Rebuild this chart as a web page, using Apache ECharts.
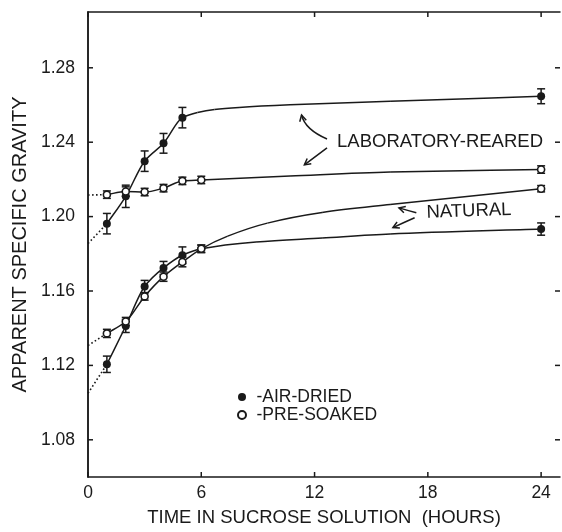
<!DOCTYPE html>
<html>
<head>
<meta charset="utf-8">
<script src="https://cdn.jsdelivr.net/npm/echarts@6/dist/echarts.min.js"></script>
<style>
html,body{margin:0;padding:0;background:#fff;}
#chart{width:562px;height:532px;}
</style>
</head>
<body>
<div id="chart"></div>
<script>
// ---- data ----
const xTicks = [0, 6, 12, 18, 24];
const yTicks = [1.08, 1.12, 1.16, 1.20, 1.24, 1.28];
const X_MIN = 0, X_MAX = 25, Y_MIN = 1.06, Y_MAX = 1.31;

// Laboratory-reared, air-dried (filled)
const labAirTimes  = [1, 2, 3, 4, 5, 24];
const labAirValues = [1.1962, 1.2109, 1.2298, 1.2394, 1.2532, 1.2647];
const labAirErrors = [0.0055, 0.0060, 0.0055, 0.0053, 0.0055, 0.0040];
const labAirFit    = [[5.8, 1.2560], [6.7, 1.2576], [8, 1.2587], [10.7, 1.2601], [16, 1.2620]];
const labAirStart  = 1.1855;

// Laboratory-reared, pre-soaked (open)
const labPreTimes  = [1, 2, 3, 4, 5, 6, 24];
const labPreValues = [1.2118, 1.2135, 1.2132, 1.2153, 1.2192, 1.2197, 1.2253];
const labPreErrors = [0.0020, 0.0025, 0.0020, 0.0020, 0.0020, 0.0020, 0.0020];
const labPreFit    = [[10.7, 1.2218], [16, 1.2240]];
const labPreStart  = 1.2116;

// Natural, air-dried (filled)
const natAirTimes  = [1, 2, 3, 4, 5, 6, 24];
const natAirValues = [1.1206, 1.1412, 1.1624, 1.1724, 1.1792, 1.1827, 1.1933];
const natAirErrors = [0.0044, 0.0035, 0.0033, 0.0035, 0.0045, 0.0020, 0.0033];
const natAirFit    = [[8.9, 1.1864], [12.4, 1.1885], [16, 1.1906]];
const natAirStart  = 1.1050;

// Natural, pre-soaked (open)
const natPreTimes  = [1, 2, 3, 4, 5, 6, 24];
const natPreValues = [1.1372, 1.1436, 1.1571, 1.1677, 1.1756, 1.1827, 1.2150];
const natPreErrors = [0.0022, 0.0022, 0.0020, 0.0025, 0.0026, 0.0020, 0.0017];
const natPreFit    = [[7.4, 1.1895], [9.5, 1.1965], [12.4, 1.2022], [16, 1.2065]];
const natPreStart  = 1.1307;

// annotation labels and arrows (data coordinates: hours, gravity)
const labelTexts   = ['LABORATORY-REARED', 'NATURAL'];
const labelAnchors = [[13.19, 1.2400], [17.93, 1.2021]];
// [tailX, tailY, ctrlX, ctrlY, tipX, tipY]
const arrows = [
  [12.66, 1.2417, 11.50, 1.2468, 11.31, 1.2546],
  [12.66, 1.2370, 12.0, 1.2320, 11.46, 1.2278],
  [17.39, 1.2021, 16.9, 1.2034, 16.47, 1.2047],
  [17.30, 1.1994, 16.7, 1.1967, 16.15, 1.1941]
];

// ---- helpers ----
const INK = '#1a1a1a';
const FONT = '"Liberation Sans", Arial, Helvetica, sans-serif';
function pts(t, v) { return t.map((x, i) => [x, v[i]]); }
function ptsErr(t, v, e) { return t.map((x, i) => [x, v[i], e[i]]); }
function curve(t, v, fit) { return pts(t, v).concat(fit).sort((a, b) => a[0] - b[0]); }
function dotted(start, t, v) { return [[0, start], [t[0], v[0]]]; }

const chart = echarts.init(document.getElementById('chart'), null, {renderer: 'canvas'});

// smooth monotone (PCHIP) curve drawn through the data points, in pixel space
function curveSeries(data) {
  return {
    type: 'custom', data: data, z: 2, silent: true, clip: false,
    renderItem: function (params, api) {
      if (params.dataIndex !== 0) return null;
      const P = data.map(d => api.coord(d));
      const n = P.length;
      const h = [], d = [];
      for (let i = 0; i < n - 1; i++) {
        h.push(P[i + 1][0] - P[i][0]);
        d.push((P[i + 1][1] - P[i][1]) / h[i]);
      }
      const m = new Array(n);
      m[0] = d[0]; m[n - 1] = d[n - 2];
      for (let i = 1; i < n - 1; i++) {
        if (d[i - 1] * d[i] <= 0) { m[i] = 0; continue; }
        const w1 = 2 * h[i] + h[i - 1], w2 = h[i] + 2 * h[i - 1];
        m[i] = (w1 + w2) / (w1 / d[i - 1] + w2 / d[i]);
      }
      const children = [];
      for (let i = 0; i < n - 1; i++) {
        const k = h[i] / 3;
        children.push({type: 'bezierCurve', shape: {
          x1: P[i][0], y1: P[i][1],
          cpx1: P[i][0] + k, cpy1: P[i][1] + m[i] * k,
          cpx2: P[i + 1][0] - k, cpy2: P[i + 1][1] - m[i + 1] * k,
          x2: P[i + 1][0], y2: P[i + 1][1]},
          style: {stroke: INK, lineWidth: 1.5, fill: null}});
      }
      return {type: 'group', children: children};
    }
  };
}
function dotSeries(data) {
  return {type: 'line', data: data, symbol: 'none',
    lineStyle: {color: INK, width: 1.6, type: [1.6, 2.4]}, z: 2, silent: true};
}
function errSeries(data) {
  return {
    type: 'custom', data: data, z: 3, silent: true,
    renderItem: function (params, api) {
      const x = api.value(0), y = api.value(1), e = api.value(2);
      const top = api.coord([x, y + e]), bot = api.coord([x, y - e]);
      const w = 4;
      const st = {stroke: INK, lineWidth: 1.5};
      return {type: 'group', children: [
        {type: 'line', shape: {x1: top[0], y1: top[1], x2: bot[0], y2: bot[1]}, style: st},
        {type: 'line', shape: {x1: top[0] - w, y1: top[1], x2: top[0] + w, y2: top[1]}, style: st},
        {type: 'line', shape: {x1: bot[0] - w, y1: bot[1], x2: bot[0] + w, y2: bot[1]}, style: st}
      ]};
    }
  };
}
// inward tick marks on all four sides, placed through the axis scales
function tickSeries(values, isX) {
  return {
    type: 'custom', data: values.map(v => [v]), z: 10, silent: true, clip: false,
    renderItem: function (params, api) {
      const v = api.value(0), L = 5;
      const st = {stroke: INK, lineWidth: 1.5};
      if (isX) {
        const b = api.coord([v, Y_MIN]), t = api.coord([v, Y_MAX]);
        return {type: 'group', children: [
          {type: 'line', shape: {x1: b[0], y1: b[1], x2: b[0], y2: b[1] - L}, style: st},
          {type: 'line', shape: {x1: t[0], y1: t[1], x2: t[0], y2: t[1] + L}, style: st}]};
      }
      const l = api.coord([X_MIN, v]), r = api.coord([X_MAX, v]);
      return {type: 'group', children: [
        {type: 'line', shape: {x1: l[0], y1: l[1], x2: l[0] + L, y2: l[1]}, style: st},
        {type: 'line', shape: {x1: r[0], y1: r[1], x2: r[0] - L, y2: r[1]}, style: st}]};
    }
  };
}

const axisLine = {show: true, lineStyle: {color: INK, width: 1.5}};

const option = {
  animation: false,
  backgroundColor: '#ffffff',
  grid: {left: 88, right: 2, top: 12, bottom: 50, containLabel: false},
  legend: {
    data: ['-AIR-DRIED', '-PRE-SOAKED'],
    orient: 'vertical', left: 237, top: 388,
    itemWidth: 19, itemHeight: 8, itemGap: 0, padding: 0,
    selectedMode: false,
    textStyle: {fontSize: 17.5, lineHeight: 15, color: INK, fontFamily: FONT}
  },
  xAxis: [
    {
      type: 'value', position: 'bottom', min: X_MIN, max: X_MAX,
      axisLine: axisLine, axisTick: {show: false}, splitLine: {show: false},
      axisLabel: {customValues: xTicks, color: INK, fontSize: 17.5, fontFamily: FONT, margin: 7},
      name: 'TIME IN SUCROSE SOLUTION  (HOURS)', nameLocation: 'middle', nameGap: 31,
      nameTextStyle: {color: INK, fontSize: 18.5, fontFamily: FONT}
    },
    {
      type: 'value', position: 'top', min: X_MIN, max: X_MAX,
      axisLine: axisLine, axisTick: {show: false}, splitLine: {show: false},
      axisLabel: {show: false}
    }
  ],
  yAxis: [
    {
      type: 'value', position: 'left', min: Y_MIN, max: Y_MAX,
      axisLine: axisLine, axisTick: {show: false}, splitLine: {show: false},
      axisLabel: {customValues: yTicks, color: INK, fontSize: 17.5, fontFamily: FONT, margin: 13,
        formatter: v => v.toFixed(2)},
      name: 'APPARENT SPECIFIC GRAVITY', nameLocation: 'middle', nameGap: 55,
      nameTextStyle: {color: INK, fontSize: 20, fontFamily: FONT}
    },
    {
      type: 'value', position: 'right', min: Y_MIN, max: Y_MAX,
      axisLine: axisLine, axisTick: {show: false}, splitLine: {show: false},
      axisLabel: {show: false}
    }
  ],
  series: [
    tickSeries(xTicks, true),
    tickSeries(yTicks, false),
    dotSeries(dotted(labAirStart, labAirTimes, labAirValues)),
    dotSeries(dotted(labPreStart, labPreTimes, labPreValues)),
    dotSeries(dotted(natAirStart, natAirTimes, natAirValues)),
    dotSeries(dotted(natPreStart, natPreTimes, natPreValues)),
    curveSeries(curve(labAirTimes, labAirValues, labAirFit)),
    curveSeries(curve(labPreTimes, labPreValues, labPreFit)),
    curveSeries(curve(natAirTimes, natAirValues, natAirFit)),
    curveSeries(curve(natPreTimes, natPreValues, natPreFit)),
    errSeries(ptsErr(labAirTimes, labAirValues, labAirErrors)),
    errSeries(ptsErr(labPreTimes, labPreValues, labPreErrors)),
    errSeries(ptsErr(natAirTimes, natAirValues, natAirErrors)),
    errSeries(ptsErr(natPreTimes, natPreValues, natPreErrors)),
    {
      name: '-AIR-DRIED', type: 'scatter', z: 5, symbol: 'circle', symbolSize: 8,
      itemStyle: {color: INK, borderColor: INK, borderWidth: 0, opacity: 1},
      data: pts(labAirTimes, labAirValues).concat(pts(natAirTimes, natAirValues))
    },
    {
      name: '-PRE-SOAKED', type: 'scatter', z: 6, symbol: 'circle', symbolSize: 7,
      itemStyle: {color: '#ffffff', borderColor: INK, borderWidth: 1.6, opacity: 1},
      data: pts(labPreTimes, labPreValues).concat(pts(natPreTimes, natPreValues))
    },
    {
      type: 'custom', z: 7, silent: true, data: arrows,
      renderItem: function (params, api) {
        const t = api.coord([api.value(0), api.value(1)]);
        const c = api.coord([api.value(2), api.value(3)]);
        const p = api.coord([api.value(4), api.value(5)]);
        const ang = Math.atan2(p[1] - c[1], p[0] - c[0]);
        const L = 7, a = 0.5;
        const h1 = [p[0] - L * Math.cos(ang - a), p[1] - L * Math.sin(ang - a)];
        const h2 = [p[0] - L * Math.cos(ang + a), p[1] - L * Math.sin(ang + a)];
        const st = {stroke: INK, lineWidth: 1.5, fill: null};
        return {type: 'group', children: [
          {type: 'bezierCurve', shape: {x1: t[0], y1: t[1], cpx1: c[0], cpy1: c[1], x2: p[0], y2: p[1]}, style: st},
          {type: 'polyline', shape: {points: [h1, p, h2]}, style: st}
        ]};
      }
    },
    {
      type: 'custom', z: 8, silent: true, data: labelAnchors,
      renderItem: function (params, api) {
        const p = api.coord([api.value(0), api.value(1)]);
        const i = params.dataIndex;
        return {type: 'text', x: p[0], y: p[1], rotation: i === 1 ? 0.035 : 0,
          style: {text: labelTexts[i], fill: INK, font: '18.5px ' + FONT, textAlign: 'left', textVerticalAlign: 'middle'}};
      }
    }
  ]
};
chart.setOption(option);
</script>
</body>
</html>
